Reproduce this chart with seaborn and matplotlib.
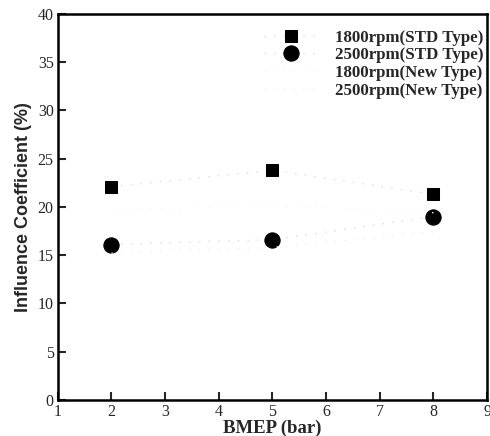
import matplotlib
matplotlib.use("Agg")
import matplotlib.pyplot as plt
import seaborn as sns
import pandas as pd

bmep = [2, 5, 8]
std_1800 = [22.1, 23.8, 21.3]
std_2500 = [16.1, 16.6, 19.0]
new_1800 = [19.6, 20.2, 19.4]
new_2500 = [15.2, 15.8, 17.4]
labels = ["1800rpm(STD Type)", "2500rpm(STD Type)", "1800rpm(New Type)", "2500rpm(New Type)"]
x_ticks = [1, 2, 3, 4, 5, 6, 7, 8, 9]
y_ticks = [0, 5, 10, 15, 20, 25, 30, 35, 40]

sns.set_style("ticks")
plt.rcParams['font.family'] = ['Liberation Serif', 'DejaVu Serif']

fig = plt.figure(figsize=(4.9, 4.36), dpi=100)
ax = fig.add_axes([0.118, 0.083, 0.876, 0.885])

series = [std_1800, std_2500, new_1800, new_2500]
markers = ["s", "o", None, None]
msizes = [8, 11, 0, 0]
lcolors = ["#dcdcdc", "#dcdcdc", "#f7f7f7", "#eeeeee"]
for vals, lab, mk, ms, lc in zip(series, labels, markers, msizes, lcolors):
    df = pd.DataFrame({"x": bmep, "y": vals})
    sns.lineplot(data=df, x="x", y="y", ax=ax, label=lab, color=lc,
                 linestyle=(0, (1, 6)), linewidth=1.0,
                 marker=mk if mk else "", markersize=ms,
                 markerfacecolor="black", markeredgecolor="black")

ax.set_xlim(1, 9)
ax.set_ylim(0, 40)
ax.set_xticks(x_ticks)
ax.set_yticks(y_ticks)
ax.set_xticklabels([str(v) for v in x_ticks], fontsize=11.5)
ax.set_yticklabels([str(v) for v in y_ticks], fontsize=11.5)
ax.tick_params(direction="in", length=6, width=1.5, top=False, right=False, pad=3)
for s in ax.spines.values():
    s.set_linewidth(1.8)
    s.set_color("black")

ax.set_xlabel("BMEP (bar)", fontsize=13.5, fontweight="bold", labelpad=0)
ax.set_ylabel("Influence Coefficient (%)", fontsize=13, fontweight="bold", labelpad=4,
              family=["Liberation Sans", "DejaVu Sans"])

leg = ax.legend(loc="upper right", bbox_to_anchor=(1.02, 0.99), frameon=False,
                handlelength=3.2, handletextpad=1.0, labelspacing=0.1, borderaxespad=0.3,
                prop={"weight": "bold", "size": 12.2, "family": "Liberation Serif"})

fig.savefig("out.png", dpi=100)
